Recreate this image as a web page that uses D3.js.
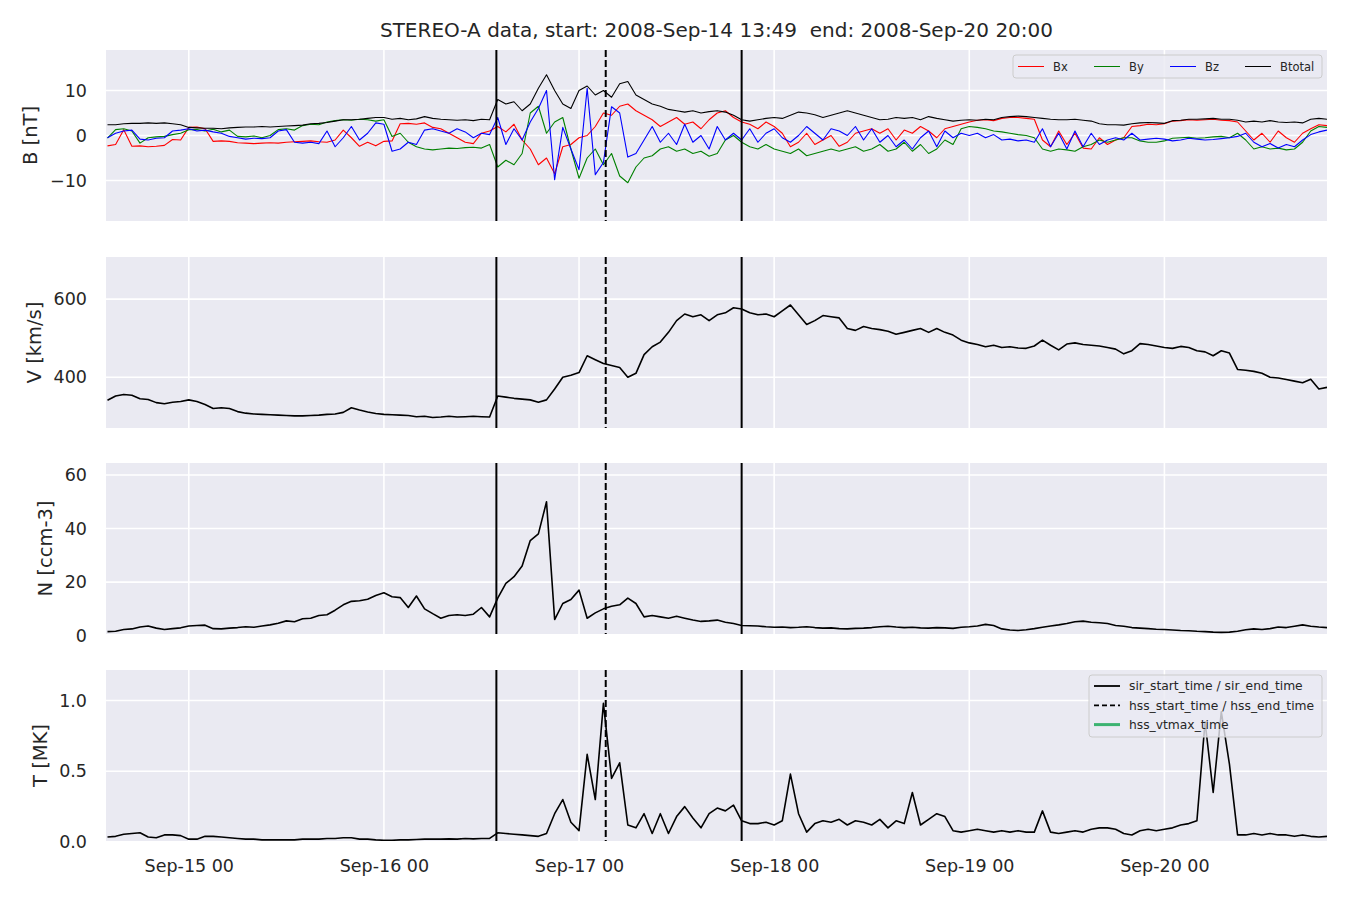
<!DOCTYPE html>
<html>
<head>
<meta charset="utf-8">
<script src="https://cdn.jsdelivr.net/npm/d3@7"></script>
<style>
  body { margin: 0; background: #ffffff; }
  svg { display: block; }
  text { font-family: "DejaVu Sans", sans-serif; fill: #262626; }
</style>
</head>
<body>
<svg id="chart" width="1350" height="900"></svg>
<script>
// ---------------- DATA (hourly samples, starting 2008-09-14 14:00 UTC) ----------------
const titleText = "STEREO-A data, start: 2008-Sep-14 13:49  end: 2008-Sep-20 20:00";
const startTime = "2008-09-14T13:49:00Z";
const endTime = "2008-09-20T20:00:00Z";
const firstSample = "2008-09-14T14:00:00Z";

const Bx = [-2.3,-2.0,1.3,-2.4,-2.3,-2.5,-2.4,-2.2,-0.9,-1.0,1.8,1.9,1.5,-1.3,-1.2,-1.3,-1.6,-1.7,-1.8,-1.7,
  -1.6,-1.7,-1.5,-1.4,-1.3,-1.2,-1.4,-1.5,-1.0,1.2,-0.5,-2.4,-1.5,-2.3,-1.3,-1.2,2.6,2.7,2.5,2.8,
  1.8,1.5,0.5,-0.5,-1.5,-1.8,0.5,1.0,2.0,0.8,2.5,-1.0,-3.0,-6.5,-5.0,-8.5,-2.5,-2.0,-0.5,0.0,
  2.0,5.0,4.5,6.5,7.0,5.5,4.5,3.5,2.0,3.0,4.0,2.5,3.0,1.5,3.5,5.0,5.5,4.0,3.0,2.5,
  1.5,3.0,2.0,0.5,-2.5,-1.5,0.5,-2.0,-1.0,0.0,-2.4,-1.5,0.5,1.0,1.5,0.5,1.5,-1.0,1.2,0.5,
  2.0,1.0,-0.5,1.5,2.0,2.5,3.0,3.4,3.5,3.3,3.8,4.0,4.0,3.8,3.6,-1.0,-2.5,1.0,-2.0,0.5,
  -2.8,-3.0,-0.5,-2.0,-1.0,-0.5,2.0,2.2,2.5,2.4,2.6,3.2,3.3,3.5,3.4,3.5,3.6,3.4,3.3,3.0,
  1.0,-1.0,0.5,-1.5,1.0,-0.5,-1.5,0.5,1.5,2.4,2.2];
const By = [-0.6,1.3,1.5,1.0,-1.7,-0.5,-0.3,-0.2,0.2,0.5,1.3,1.3,1.0,1.4,0.8,1.2,-0.2,-0.3,-0.1,-0.5,
  0.0,1.3,1.5,1.2,2.2,2.5,2.4,3.0,3.3,3.5,3.4,3.6,3.5,3.2,3.5,-0.2,0.5,-1.5,-2.5,-3.0,
  -3.2,-3.0,-2.8,-2.9,-2.7,-2.6,-2.8,-2.0,-7.0,-5.5,-6.5,-4.0,5.0,6.5,0.5,3.0,4.0,-3.0,-9.5,-5.0,
  -3.0,-6.5,-4.0,-9.0,-10.5,-7.0,-5.0,-4.5,-3.0,-2.5,-3.5,-3.0,-4.0,-3.5,-4.6,-4.0,-1.0,0.0,-1.5,-2.5,
  -3.0,-2.0,-3.0,-3.5,-4.0,-3.0,-4.5,-4.0,-3.5,-3.0,-3.5,-3.0,-2.5,-3.5,-3.0,-2.0,-3.5,-3.0,-1.5,-3.5,
  -2.0,-4.0,-3.0,-1.0,-2.0,1.5,2.0,1.8,1.5,1.0,0.8,0.5,0.2,0.0,-0.5,-3.0,-3.5,-3.0,-3.2,-3.5,
  -2.5,-2.0,-1.0,-1.5,-1.0,-0.5,-0.5,-1.2,-1.5,-1.5,-1.2,-0.6,-0.5,-0.4,-0.6,-0.5,-0.3,-0.2,-0.5,0.5,
  -1.0,-3.0,-2.5,-3.0,-2.8,-3.2,-3.0,-1.5,1.0,2.0,1.8];
const Bz = [-0.5,0.5,1.0,1.2,-0.8,-1.0,-0.6,-0.5,1.0,1.2,1.5,1.0,1.2,0.8,0.5,-0.2,-0.5,-0.8,-0.6,-0.7,
  -0.5,1.0,1.3,-1.5,-1.7,-1.5,-1.8,1.0,-2.5,-0.5,2.0,-1.0,0.5,2.8,2.5,-3.5,-3.0,-1.5,-2.0,1.2,
  1.5,1.0,0.5,1.5,0.8,-0.5,0.5,0.2,4.0,-2.0,1.5,-1.0,3.0,6.0,10.0,-9.8,1.8,-3.0,-7.6,10.5,
  -8.7,-6.0,6.4,5.0,-4.8,-4.0,-1.0,2.0,-1.5,0.5,-2.0,2.5,-1.5,0.0,-3.0,2.0,-1.0,0.5,-1.0,1.5,
  -1.5,0.5,1.5,-0.5,-1.5,0.0,2.0,0.5,-1.0,1.5,1.0,0.0,2.0,-1.0,1.5,-1.5,0.0,-2.5,-1.0,-3.0,
  -0.5,1.0,-2.5,1.0,-0.5,0.5,0.0,0.5,-0.5,0.2,-1.0,-0.8,-1.2,-1.0,-1.5,1.5,-2.5,0.5,-3.0,1.0,
  -2.5,0.5,-2.0,-1.0,-0.5,-1.0,0.5,-1.0,-0.8,-0.6,-0.8,-1.2,-1.0,-0.6,-0.8,-1.0,-0.9,-0.7,-0.5,-0.2,
  0.5,-1.5,-2.5,-1.8,-2.8,-2.0,-2.5,-1.0,0.2,0.8,1.2];
const Btotal = [2.4,2.4,2.6,2.7,2.7,2.8,2.7,2.8,2.6,2.4,1.8,1.7,1.6,1.6,1.5,1.7,1.8,1.9,1.9,2.0,
  1.9,2.0,2.1,2.2,2.3,2.6,2.7,2.9,3.2,3.5,3.5,3.6,3.8,4.0,4.0,3.6,3.8,3.5,3.7,4.2,
  3.8,3.6,3.5,3.4,3.5,3.3,3.6,3.5,8.0,7.0,7.5,5.5,7.0,10.5,13.5,10.0,7.0,6.0,10.0,11.0,
  9.0,10.0,8.5,11.5,12.0,9.0,8.0,7.0,6.5,5.8,5.5,5.2,5.5,5.0,5.3,5.5,5.2,4.5,3.5,3.2,
  3.5,3.8,4.0,3.8,4.5,5.2,5.0,4.6,4.0,4.5,5.0,5.5,5.0,4.5,4.0,3.5,3.6,4.0,3.8,4.0,
  3.5,4.2,3.8,3.5,3.2,3.4,3.5,3.4,3.6,3.5,4.0,4.2,4.3,4.2,4.0,3.8,3.6,3.5,3.5,3.6,
  3.4,3.2,2.6,2.4,2.4,2.3,2.6,2.8,2.9,2.8,2.7,3.3,3.4,3.6,3.6,3.7,3.8,3.6,3.6,3.4,
  3.0,3.2,3.0,3.3,3.0,2.9,3.0,2.8,3.6,3.8,3.6];
const V = [341,352,356,354,345,343,335,332,336,338,342,338,330,320,322,320,312,308,306,305,
  304,303,302,301,301,302,303,305,306,310,322,316,311,307,305,304,303,302,299,300,
  297,298,300,298,299,300,299,298,352,349,346,344,342,336,342,370,400,405,412,455,
  445,435,430,425,400,410,458,478,490,515,545,562,555,560,545,560,565,578,575,565,
  560,562,555,570,585,560,535,545,558,555,552,525,520,530,525,522,518,510,515,520,
  525,515,525,515,508,495,488,484,478,482,476,478,475,474,480,495,482,470,485,488,
  484,482,480,476,472,460,468,486,484,480,476,474,479,476,468,465,455,468,462,420,
  418,415,410,400,398,394,390,386,395,370,374];
const N = [1.5,1.6,2.3,2.5,3.2,3.6,2.8,2.3,2.6,2.9,3.6,3.8,3.9,2.6,2.5,2.8,3.0,3.3,3.1,3.6,
  4.0,4.6,5.5,5.2,6.3,6.5,7.5,7.8,9.5,11.5,12.8,13.0,13.6,15.0,16.0,14.5,14.2,10.5,14.8,10.0,
  8.2,6.5,7.5,7.8,7.5,8.0,10.5,7.0,14.0,19.5,22.0,26.0,35.5,38.0,50.0,6.0,12.0,13.5,17.0,6.5,
  8.5,10.0,11.0,11.5,14.0,12.0,7.0,7.5,7.0,6.5,7.2,6.5,5.8,5.3,5.5,5.8,5.0,4.5,3.8,3.7,
  3.6,3.3,3.1,3.2,3.0,3.1,3.3,3.0,2.8,2.9,2.6,2.5,2.7,2.8,3.0,3.3,3.5,3.2,3.0,3.1,
  2.9,2.8,3.0,2.9,2.7,3.1,3.3,3.6,4.2,3.8,2.5,2.1,1.9,2.2,2.6,3.1,3.6,4.0,4.5,5.2,
  5.4,5.0,4.8,4.5,3.8,3.5,3.0,2.8,2.6,2.4,2.3,2.1,1.9,1.8,1.6,1.5,1.3,1.2,1.3,1.6,
  2.2,2.5,2.3,2.6,3.2,3.0,3.5,4.0,3.5,3.2,3.0];
const T = [0.035,0.04,0.055,0.06,0.065,0.035,0.03,0.05,0.05,0.045,0.02,0.02,0.04,0.04,0.035,0.03,0.025,0.02,0.02,0.015,
  0.015,0.015,0.015,0.015,0.02,0.02,0.02,0.025,0.025,0.03,0.03,0.02,0.02,0.015,0.012,0.012,0.015,0.015,0.018,0.02,
  0.02,0.02,0.022,0.02,0.025,0.022,0.025,0.025,0.065,0.06,0.055,0.05,0.045,0.04,0.06,0.2,0.3,0.14,0.08,0.62,
  0.3,0.98,0.45,0.56,0.12,0.1,0.2,0.06,0.2,0.06,0.18,0.25,0.17,0.1,0.2,0.24,0.22,0.26,0.15,0.13,
  0.13,0.14,0.12,0.15,0.48,0.2,0.07,0.13,0.15,0.14,0.16,0.12,0.15,0.14,0.12,0.16,0.1,0.15,0.13,0.35,
  0.12,0.16,0.2,0.18,0.08,0.07,0.08,0.09,0.08,0.07,0.08,0.07,0.08,0.07,0.07,0.22,0.07,0.06,0.07,0.08,
  0.07,0.09,0.1,0.1,0.09,0.06,0.05,0.08,0.09,0.08,0.09,0.1,0.12,0.13,0.15,0.85,0.35,0.92,0.55,0.05,
  0.05,0.06,0.05,0.06,0.05,0.05,0.04,0.05,0.04,0.035,0.04];

const sirTimes = ["2008-09-16T13:50:00Z", "2008-09-17T20:00:00Z"];
const hssTimes = ["2008-09-17T03:17:00Z"];

const bTicks = [-10, 0, 10];
const vTicks = [400, 600];
const nTicks = [0, 20, 40, 60];
const tTicks = [0.0, 0.5, 1.0];

const bSeries = [
  {name: "Bx", values: Bx, color: "#ff0000"},
  {name: "By", values: By, color: "#008000"},
  {name: "Bz", values: Bz, color: "#0000ff"},
  {name: "Btotal", values: Btotal, color: "#000000"}
];
const eventLegend = [
  {label: "sir_start_time / sir_end_time", dash: null, color: "#000000", width: 1.8},
  {label: "hss_start_time / hss_end_time", dash: "5,3", color: "#000000", width: 1.8},
  {label: "hss_vtmax_time", dash: null, color: "#3cb371", width: 3}
];

// ---------------- LAYOUT ----------------
const svg = d3.select("#chart");
const left = 106, right = 1327;
const panelH = 171;
const tickFont = "17.5px", labelFont = "19.5px";
const panels = [
  {top: 50, domain: [-19, 19], ticks: bTicks, fmt: d3.format("d"), label: "B [nT]", labelX: 30},
  {top: 257, domain: [270, 708], ticks: vTicks, fmt: d3.format("d"), label: "V [km/s]", labelX: 34},
  {top: 463, domain: [0.6, 64.5], ticks: nTicks, fmt: d3.format("d"), label: "N [ccm-3]", labelX: 45},
  {top: 670, domain: [0.007, 1.216], ticks: tTicks, fmt: d3.format(".1f"), label: "T [MK]", labelX: 40}
];

const t0 = new Date(firstSample).getTime();
const times = V.map((_, i) => new Date(t0 + i * 3600e3));

const x = d3.scaleUtc().domain([new Date(startTime), new Date(endTime)]).range([left, right]);
const dayTicks = d3.utcDay.range(new Date("2008-09-15T00:00:00Z"), new Date("2008-09-20T12:00:00Z"));

svg.append("text").attr("x", (left + right) / 2).attr("y", 37)
  .attr("text-anchor", "middle").style("font-size", "20px").style("white-space", "pre")
  .attr("xml:space", "preserve").text(titleText);

panels.forEach((p, pi) => {
  p.y = d3.scaleLinear().domain(p.domain).range([p.top + panelH, p.top]);
  const g = svg.append("g");
  const clipId = "clip" + pi;
  svg.append("clipPath").attr("id", clipId).append("rect")
    .attr("x", left).attr("y", p.top).attr("width", right - left).attr("height", panelH);
  g.append("rect").attr("x", left).attr("y", p.top).attr("width", right - left).attr("height", panelH)
    .attr("fill", "#eaeaf2");
  // grid
  g.selectAll(".gx").data(dayTicks).join("line")
    .attr("x1", d => x(d)).attr("x2", d => x(d)).attr("y1", p.top).attr("y2", p.top + panelH)
    .attr("stroke", "#ffffff").attr("stroke-width", 1.6);
  g.selectAll(".gy").data(p.ticks).join("line")
    .attr("x1", left).attr("x2", right).attr("y1", d => p.y(d)).attr("y2", d => p.y(d))
    .attr("stroke", "#ffffff").attr("stroke-width", 1.6);
  // y tick labels
  const ay = d3.axisLeft(p.y).tickValues(p.ticks).tickFormat(p.fmt).tickSize(0).tickPadding(19);
  const axg = svg.append("g").attr("transform", `translate(${left},0)`).call(ay);
  axg.select(".domain").remove();
  axg.selectAll("text").style("font-size", tickFont).style("font-family", "DejaVu Sans").attr("fill", "#262626");
  // y label
  svg.append("text").attr("transform", `translate(${p.labelX},${p.top + panelH / 2}) rotate(-90)`)
    .attr("text-anchor", "middle").attr("dy", "0.35em").style("font-size", labelFont).text(p.label);
  p.g = g.append("g").attr("clip-path", `url(#${clipId})`);
});

function drawLine(p, values, color, width) {
  const line = d3.line().x((d, i) => x(times[i])).y(d => p.y(d));
  p.g.append("path").datum(values).attr("d", line)
    .attr("fill", "none").attr("stroke", color).attr("stroke-width", width).attr("stroke-linejoin", "round");
}

bSeries.forEach(s => drawLine(panels[0], s.values, s.color, 1.1));
drawLine(panels[1], V, "#000000", 1.6);
drawLine(panels[2], N, "#000000", 1.6);
drawLine(panels[3], T, "#000000", 1.6);

// event lines
panels.forEach(p => {
  p.g.selectAll(".sir").data(sirTimes).join("line")
    .attr("x1", d => x(new Date(d))).attr("x2", d => x(new Date(d)))
    .attr("y1", p.top).attr("y2", p.top + panelH).attr("stroke", "#000").attr("stroke-width", 2);
  p.g.selectAll(".hss").data(hssTimes).join("line")
    .attr("x1", d => x(new Date(d))).attr("x2", d => x(new Date(d)))
    .attr("y1", p.top).attr("y2", p.top + panelH).attr("stroke", "#000").attr("stroke-width", 2)
    .attr("stroke-dasharray", "7,3");
});

// x axis labels (bottom panel only)
const ax = d3.axisBottom(x).tickValues(dayTicks).tickFormat(d3.utcFormat("%b-%d %H")).tickSize(0).tickPadding(19);
const axx = svg.append("g").attr("transform", `translate(0,${panels[3].top + panelH})`).call(ax);
axx.select(".domain").remove();
axx.selectAll("text").style("font-size", tickFont).style("font-family", "DejaVu Sans").attr("fill", "#262626");

// legend B panel
{
  const lg = svg.append("g");
  lg.append("rect").attr("x", 1013).attr("y", 55).attr("width", 309).attr("height", 23).attr("rx", 3)
    .attr("fill", "#eaeaf2").attr("fill-opacity", 0.8).attr("stroke", "#cccccc");
  const xs = [1018, 1094, 1170, 1245];
  bSeries.forEach((s, i) => {
    lg.append("line").attr("x1", xs[i]).attr("x2", xs[i] + 26).attr("y1", 66.5).attr("y2", 66.5)
      .attr("stroke", s.color).attr("stroke-width", 1);
    lg.append("text").attr("x", xs[i] + 35).attr("y", 66.5).attr("dy", "0.35em")
      .style("font-size", "11.5px").text(s.name);
  });
}
// legend T panel
{
  const lg = svg.append("g");
  lg.append("rect").attr("x", 1089).attr("y", 675).attr("width", 233).attr("height", 62).attr("rx", 3)
    .attr("fill", "#eaeaf2").attr("fill-opacity", 0.8).attr("stroke", "#cccccc");
  eventLegend.forEach((e, i) => {
    const yy = 686 + i * 19.3;
    lg.append("line").attr("x1", 1094).attr("x2", 1120).attr("y1", yy).attr("y2", yy)
      .attr("stroke", e.color).attr("stroke-width", e.width).attr("stroke-dasharray", e.dash);
    lg.append("text").attr("x", 1129).attr("y", yy).attr("dy", "0.35em")
      .style("font-size", "12.3px").text(e.label);
  });
}
</script>
</body>
</html>
